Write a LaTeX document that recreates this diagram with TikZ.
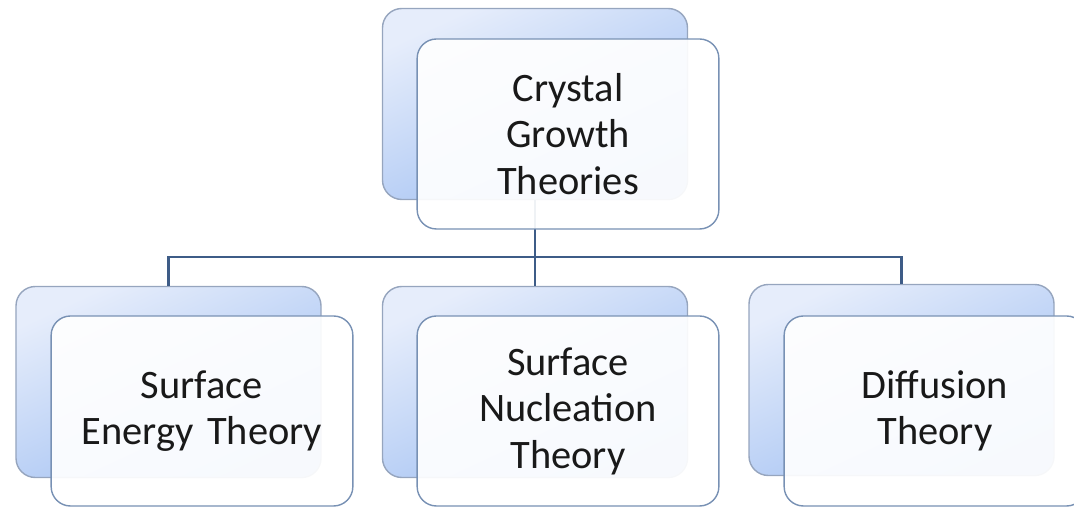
\documentclass[tikz,border=0pt]{standalone}
\usepackage{fontspec}
\setmainfont{Carlito}
\definecolor{backtop}{RGB}{230,237,251}
\definecolor{backbot}{RGB}{158,190,242}
\definecolor{backline}{RGB}{150,165,190}
\definecolor{frontline}{RGB}{120,145,180}
\definecolor{linkcol}{RGB}{62,92,135}
\definecolor{txtcol}{RGB}{25,25,25}
\begin{document}
\begin{tikzpicture}[
  back/.style={draw=backline, rounded corners=11pt, top color=backtop, bottom color=backbot,
               shading angle=25, minimum width=6.1cm, minimum height=3.82cm, line width=0.8pt},
  front/.style={draw=frontline, rounded corners=11pt, fill=white, fill opacity=0.92,
                text opacity=1, minimum width=6.02cm, minimum height=3.8cm, line width=0.8pt,
                text width=5.8cm, align=center, text=txtcol,
                font=\fontsize{23}{26.5}\selectfont},
  link/.style={draw=linkcol, line width=1.5pt}
]
\useasboundingbox (0,0) rectangle (21.48,10.14);

% back panels
\node[back] (topb)   at (10.70, 8.06) {};
\node[back] (surfb)  at (3.37, 2.50)  {};
\node[back] (nuclb)  at (10.70, 2.50) {};
\node[back] (diffb)  at (18.03, 2.54) {};

% tree lines
\draw[link] (topb.south) -- (10.70, 5.0) -| (surfb.north);
\draw[link] (topb.south) -- (10.70, 5.0) -| (diffb.north);
\draw[link] (topb.south) -- (nuclb.north);

% front panels
\node[front] (top)  at (11.36, 7.46) {Crystal\\Growth\\Theories};
\node[front] (surf) at (4.04, 1.92)  {Surface\\Energy Theory};
\node[front] (nucl) at (11.36, 1.92) {Surface\\Nucleation\\Theory};
\node[front] (diff) at (18.70, 1.92) {Diffusion\\Theory};

\end{tikzpicture}
\end{document}
